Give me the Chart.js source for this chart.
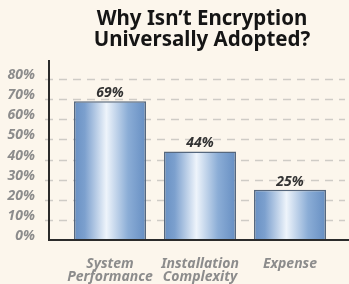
<!DOCTYPE html>
<html>
<head>
<meta charset="utf-8">
<script src="https://cdn.jsdelivr.net/npm/chart.js@4/dist/chart.umd.min.js"></script>
<style>
  html, body { margin: 0; padding: 0; background: #fcf6ec; }
  #wrap { width: 349px; height: 284px; }
</style>
</head>
<body>
<div id="wrap"><canvas id="chart" width="349" height="284"></canvas></div>
<script>
const titleLines = ["Why Isn\u2019t Encryption", "Universally Adopted?"];
const categories = [["System", "Performance"], ["Installation", "Complexity"], ["Expense"]];
const values = [69, 44, 25];
const yMax = 90;
const yStep = 10;

const FONT = "'Noto Sans', 'DejaVu Sans', sans-serif";

// grid lines, axis lines, title and value labels
const decorations = {
  id: "decorations",
  beforeDatasetsDraw(chart) {
    const { ctx, chartArea } = chart;
    const y = chart.scales.y;
    ctx.save();
    ctx.strokeStyle = "#cfccc6";
    ctx.lineWidth = 1.5;
    ctx.setLineDash([8, 6]);
    for (let v = yStep; v < yMax; v += yStep) {
      const py = Math.round(y.getPixelForValue(v)) + 0.5;
      ctx.beginPath();
      ctx.moveTo(chartArea.left - 20, py);
      ctx.lineTo(chartArea.right + 10, py);
      ctx.stroke();
    }
    ctx.restore();
  },
  afterDatasetsDraw(chart) {
    const { ctx, chartArea } = chart;
    const meta = chart.getDatasetMeta(0);
    ctx.save();
    ctx.strokeStyle = "#2b2b2b";
    ctx.lineWidth = 2;
    const ax = chartArea.left - 16;
    ctx.beginPath();
    ctx.moveTo(ax, chartArea.top + 1);
    ctx.lineTo(ax, chartArea.bottom);
    ctx.lineTo(chart.width, chartArea.bottom);
    ctx.stroke();

    ctx.fillStyle = "#333333";
    ctx.font = "italic bold 14px " + FONT;
    ctx.textAlign = "center";
    ctx.textBaseline = "bottom";
    meta.data.forEach((bar, i) => {
      ctx.fillText(values[i] + "%", bar.x, bar.y - 1);
    });

    ctx.fillStyle = "#151515";
    ctx.font = "bold 20.5px " + FONT;
    ctx.textBaseline = "middle";
    const cx = (chartArea.left + chartArea.right) / 2 + 2;
    ctx.fillText(titleLines[0], cx, 19);
    ctx.fillText(titleLines[1], cx, 40);
    ctx.restore();
  }
};

function barFill(context) {
  const chart = context.chart;
  if (!chart.chartArea) return "#7fa3d0";
  const x = chart.scales.x;
  const c = x.getPixelForValue(context.dataIndex);
  const half = (x.width / categories.length) * 0.8 / 2;
  const g = chart.ctx.createLinearGradient(c - half, 0, c + half, 0);
  g.addColorStop(0, "#6890c3");
  g.addColorStop(0.15, "#7ca0ce");
  g.addColorStop(0.45, "#eef4fb");
  g.addColorStop(0.75, "#8badd6");
  g.addColorStop(1, "#668ec2");
  return g;
}

const ctx = document.getElementById("chart").getContext("2d");
new Chart(ctx, {
  type: "bar",
  data: {
    labels: categories,
    datasets: [{
      data: values,
      backgroundColor: barFill,
      borderColor: "#56677d",
      borderWidth: 1.5,
      borderSkipped: "bottom",
      categoryPercentage: 1,
      barPercentage: 0.8
    }]
  },
  options: {
    responsive: false,
    animation: false,
    layout: { padding: { top: 59, right: 14, left: 0, bottom: 0 } },
    plugins: {
      legend: { display: false },
      title: { display: false },
      tooltip: { enabled: false }
    },
    scales: {
      x: {
        grid: { display: false },
        border: { display: false },
        afterFit(scale) { scale.height = 44; },
        ticks: {
          padding: 9,
          maxRotation: 0,
          autoSkip: false,
          color: "#8c8c8c",
          font: { family: FONT, size: 14, style: "italic", weight: "bold", lineHeight: 0.95 }
        }
      },
      y: {
        min: 0,
        max: yMax,
        grid: { display: false },
        border: { display: false },
        afterFit(scale) { scale.width = 65; },
        ticks: {
          stepSize: yStep,
          autoSkip: false,
          padding: 22,
          color: "#8c8c8c",
          font: { family: FONT, size: 14, style: "italic", weight: "bold", lineHeight: "8px" },
          callback: (v) => (v >= yMax ? "" : [v + "%", ""])
        }
      }
    }
  },
  plugins: [decorations]
});
</script>
</body>
</html>
